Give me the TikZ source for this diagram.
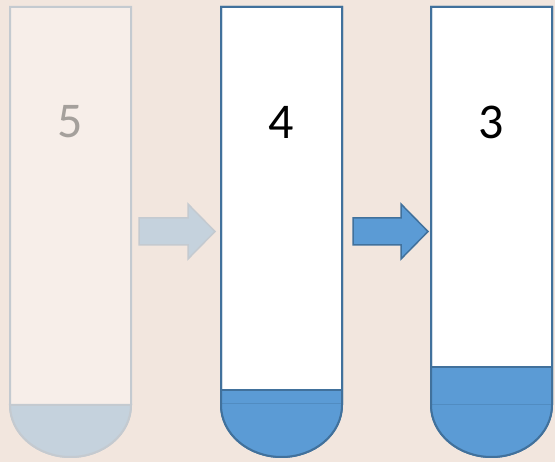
\documentclass[tikz,border=0pt]{standalone}
\usepackage{fontspec}
\setmainfont{Carlito}
\definecolor{bgtan}{HTML}{F2E6DE}
\definecolor{fadefill}{HTML}{F7EEE9}
\definecolor{fadeline}{HTML}{C4CAD0}
\definecolor{fadeliquid}{HTML}{C5D2DD}
\definecolor{fadetext}{HTML}{A5A09C}
\definecolor{liquid}{HTML}{5B9BD5}
\definecolor{tubeline}{HTML}{41719C}
\begin{document}
\begin{tikzpicture}[x=1pt, y=1pt]
    \tikzstyle{fadetube} = [draw=fadeline, line width=2pt, fill=fadefill]
    \tikzstyle{tube} = [draw=tubeline, line width=2pt, fill=white]
    \tikzstyle{fadearrow} = [draw=fadeline, line width=1.5pt, fill=fadeliquid, line join=miter]
    \tikzstyle{bluearrow} = [draw=tubeline, line width=1.5pt, fill=liquid, line join=miter]
    \tikzstyle{count} = [font=\fontsize{50}{50}\selectfont, inner sep=0pt]

    \useasboundingbox[fill=bgtan] (0,0) rectangle (555,-462);

    % faded tube
    \path[fadetube] (10,-7) -- (10,-405) arc[start angle=180, end angle=360, x radius=60.5pt, y radius=52pt] -- (131,-7) -- cycle;
    \fill[fadeliquid] (10,-405) arc[start angle=180, end angle=360, x radius=60.5pt, y radius=52pt] -- cycle;
    \draw[fadeline, line width=2pt] (10,-405) arc[start angle=180, end angle=360, x radius=60.5pt, y radius=52pt] -- cycle;
    \node[count, text=fadetext] (num5) at (70.5,-122) {5};

    % middle tube
    \path[tube] (221,-7) -- (221,-405) arc[start angle=180, end angle=360, x radius=60.5pt, y radius=52pt] -- (342,-7) -- cycle;
    \fill[liquid] (221,-390) -- (221,-405) arc[start angle=180, end angle=360, x radius=60.5pt, y radius=52pt] -- (342,-390) -- cycle;
    \draw[tubeline, opacity=0.35, line width=1pt] (221,-404) -- (342,-404);
    \draw[tube, fill=none] (221,-7) -- (221,-405) arc[start angle=180, end angle=360, x radius=60.5pt, y radius=52pt] -- (342,-7) -- cycle;
    \draw[tubeline, line width=1.5pt] (221,-390) -- (342,-390);
    \node[count] (num4) at (281.5,-122) {4};

    % right tube
    \path[tube] (431,-7) -- (431,-405) arc[start angle=180, end angle=360, x radius=60.5pt, y radius=52pt] -- (552,-7) -- cycle;
    \fill[liquid] (431,-367) -- (431,-405) arc[start angle=180, end angle=360, x radius=60.5pt, y radius=52pt] -- (552,-367) -- cycle;
    \draw[tubeline, opacity=0.35, line width=1pt] (431,-405) -- (552,-405);
    \draw[tube, fill=none] (431,-7) -- (431,-405) arc[start angle=180, end angle=360, x radius=60.5pt, y radius=52pt] -- (552,-7) -- cycle;
    \draw[tubeline, line width=1.5pt] (431,-367) -- (552,-367);
    \node[count] (num3) at (491.5,-122) {3};

    % arrows
    \path[fadearrow] (139,-218) -- (188,-218) -- (188,-204) -- (215,-231.5) -- (188,-259) -- (188,-245) -- (139,-245) -- cycle;
    \path[bluearrow] (353,-218) -- (401,-218) -- (401,-204) -- (428,-231.5) -- (401,-259) -- (401,-245) -- (353,-245) -- cycle;
\end{tikzpicture}
\end{document}
